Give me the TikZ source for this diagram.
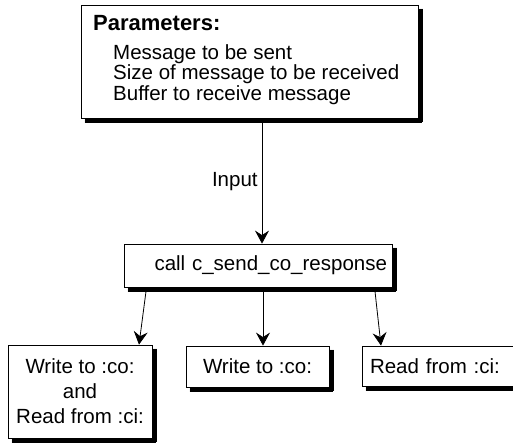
\documentclass[tikz,border=0pt]{standalone}
\usepackage{fontspec}
\setmainfont{Liberation Sans}
\usetikzlibrary{arrows.meta,calc}
\newcommand\myshadow[1]{%
  \foreach \o in {0.4,1.2,2.0,2.8,3.6}{%
    \path[draw=black, line width=0.8pt] ([xshift=4pt,yshift=-\o pt]#1.south west) -- ([xshift=4pt,yshift=-\o pt]#1.south east);
    \path[draw=black, line width=0.8pt] ([xshift=\o pt,yshift=-4pt]#1.north east) -- ([xshift=\o pt,yshift=-4pt]#1.south east);
  }}
\begin{document}
\begin{tikzpicture}[x=1pt,y=-1pt,
  box/.style={draw=black, line width=0.8pt, inner sep=0pt,
    font=\fontsize{20.5}{25}\selectfont},
  txt/.style={inner sep=0pt, font=\fontsize{20.5}{17.5}\selectfont},
  arr/.style={-{Stealth[length=13pt, width=14pt, inset=4.5pt, fill=black]}, draw=black, line width=0.8pt}
]
\useasboundingbox (0,0) rectangle (513,442);

\node[box, minimum width=337pt, minimum height=113pt] (params) at (249.5,61.5) {};
\myshadow{params}
\node[txt, anchor=base west, align=left] (paramtext) at (93,100)
  {{\fontsize{22}{22}\selectfont\bfseries Parameters:}\\[12pt]
   \hspace*{20pt}Message to be sent\\
   \hspace*{20pt}Size of message to be received\\
   \hspace*{20pt}Buffer to receive message};

\node[box, minimum width=268pt, minimum height=43pt, text width=258pt, inner xsep=5pt, align=right] (call) at (258,265.5)
  {call c\_send\_co\_response};
\myshadow{call}

\node[box, minimum width=144pt, minimum height=93pt, align=center] (both) at (80,391.5)
  {Write to :co:\\and\\Read from :ci:};
\myshadow{both}
\node[box, minimum width=143pt, minimum height=41pt, align=center] (write) at (257.5,366.5)
  {Write to :co:};
\myshadow{write}
\node[box, minimum width=150pt, minimum height=40pt, text width=142pt, inner xsep=8pt, align=left] (read) at (441,366)
  {Read from :ci:};
\myshadow{read}

\draw[arr] ([xshift=12.5pt, yshift=-4pt]params.south) -- node[pos=0.49, anchor=east, inner xsep=4pt,
  font=\fontsize{20.5}{20}\selectfont] (inlabel) {Input} ([xshift=4pt]call.north);

\draw[arr] ([xshift=-112pt, yshift=-4pt]call.south) -- ([xshift=59pt]both.north);
\draw[arr] ([xshift=5pt, yshift=-4pt]call.south) -- ([xshift=5.5pt]write.north);
\draw[arr] ([xshift=117pt, yshift=-4pt]call.south) -- ([xshift=-60pt]read.north);
\end{tikzpicture}
\end{document}
